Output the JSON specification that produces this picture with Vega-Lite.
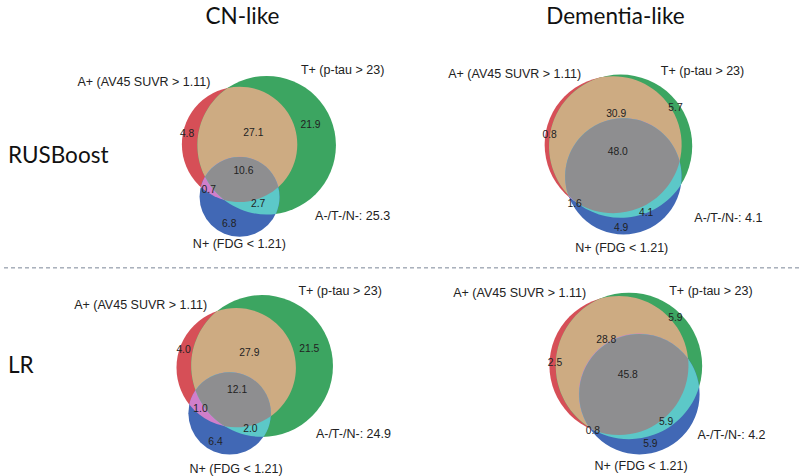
{
  "$schema": "https://vega.github.io/schema/vega-lite/v6.json",
  "width": 800,
  "height": 476,
  "autosize": {"type": "fit", "contains": "padding"},
  "padding": 0,
  "background": "white",
  "config": {"view": {"stroke": null}},
  "datasets": {
    "circles": [
      {"diag": "cn_rus", "set": "A", "x": 239.2, "y": 145.0, "total": 43.2},
      {"diag": "cn_rus", "set": "T", "x": 266.3, "y": 145.8, "total": 62.3},
      {"diag": "cn_rus", "set": "N", "x": 239.2, "y": 197.5, "total": 20.8},
      {"diag": "dem_rus", "set": "A", "x": 613.7, "y": 145.3, "total": 81.3},
      {"diag": "dem_rus", "set": "T", "x": 621.2, "y": 146.7, "total": 88.7},
      {"diag": "dem_rus", "set": "N", "x": 624.0, "y": 177.0, "total": 58.6},
      {"diag": "cn_lr", "set": "A", "x": 235.8, "y": 369.2, "total": 45.0},
      {"diag": "cn_lr", "set": "T", "x": 261.7, "y": 367.5, "total": 63.5},
      {"diag": "cn_lr", "set": "N", "x": 229.2, "y": 415.0, "total": 21.5},
      {"diag": "dem_lr", "set": "A", "x": 619.5, "y": 367.0, "total": 77.9},
      {"diag": "dem_lr", "set": "T", "x": 629.5, "y": 367.5, "total": 86.4},
      {"diag": "dem_lr", "set": "N", "x": 640.0, "y": 395.8, "total": 58.4}
    ],
    "regions": [
      {"diag": "cn_rus", "region": "A", "value": 4.8, "x": 186.5, "y": 135},
      {"diag": "cn_rus", "region": "AT", "value": 27.1, "x": 253, "y": 133.7},
      {"diag": "cn_rus", "region": "T", "value": 21.9, "x": 310.3, "y": 125.8},
      {"diag": "cn_rus", "region": "ATN", "value": 10.6, "x": 243, "y": 172},
      {"diag": "cn_rus", "region": "AN", "value": 0.7, "x": 208.3, "y": 190.8},
      {"diag": "cn_rus", "region": "TN", "value": 2.7, "x": 257.8, "y": 205.3},
      {"diag": "cn_rus", "region": "N", "value": 6.8, "x": 228.8, "y": 225},
      {"diag": "dem_rus", "region": "A", "value": 0.8, "x": 550, "y": 135.3},
      {"diag": "dem_rus", "region": "AT", "value": 30.9, "x": 616.7, "y": 114.2},
      {"diag": "dem_rus", "region": "T", "value": 5.7, "x": 676.2, "y": 108},
      {"diag": "dem_rus", "region": "ATN", "value": 48.0, "x": 618.3, "y": 153},
      {"diag": "dem_rus", "region": "AN", "value": 1.6, "x": 575, "y": 204.5},
      {"diag": "dem_rus", "region": "TN", "value": 4.1, "x": 646.7, "y": 213.8},
      {"diag": "dem_rus", "region": "N", "value": 4.9, "x": 621.7, "y": 229.3},
      {"diag": "cn_lr", "region": "A", "value": 4.0, "x": 183, "y": 351.7},
      {"diag": "cn_lr", "region": "AT", "value": 27.9, "x": 249, "y": 354.7},
      {"diag": "cn_lr", "region": "T", "value": 21.5, "x": 309, "y": 350},
      {"diag": "cn_lr", "region": "ATN", "value": 12.1, "x": 236.7, "y": 391.2},
      {"diag": "cn_lr", "region": "AN", "value": 1.0, "x": 200, "y": 410.4},
      {"diag": "cn_lr", "region": "TN", "value": 2.0, "x": 250, "y": 430.4},
      {"diag": "cn_lr", "region": "N", "value": 6.4, "x": 215, "y": 443.8},
      {"diag": "dem_lr", "region": "A", "value": 2.5, "x": 555.4, "y": 364.6},
      {"diag": "dem_lr", "region": "AT", "value": 28.8, "x": 606.7, "y": 341},
      {"diag": "dem_lr", "region": "T", "value": 5.9, "x": 676, "y": 319.7},
      {"diag": "dem_lr", "region": "ATN", "value": 45.8, "x": 628.3, "y": 376.4},
      {"diag": "dem_lr", "region": "AN", "value": 0.8, "x": 593.3, "y": 433.3},
      {"diag": "dem_lr", "region": "TN", "value": 5.9, "x": 666.7, "y": 423.6},
      {"diag": "dem_lr", "region": "N", "value": 5.9, "x": 651, "y": 446}
    ],
    "setlabels": [
      {"diag": "cn_rus", "label": "A+ (AV45 SUVR > 1.11)", "x": 143.3, "y": 82.3},
      {"diag": "cn_rus", "label": "T+ (p-tau > 23)", "x": 342.5, "y": 70.7},
      {"diag": "cn_rus", "label": "N+ (FDG < 1.21)", "x": 239, "y": 245},
      {"diag": "cn_rus", "label": "A-/T-/N-: 25.3", "x": 352.5, "y": 217.3},
      {"diag": "dem_rus", "label": "A+ (AV45 SUVR > 1.11)", "x": 515, "y": 74},
      {"diag": "dem_rus", "label": "T+ (p-tau > 23)", "x": 703.3, "y": 70.8},
      {"diag": "dem_rus", "label": "N+ (FDG < 1.21)", "x": 622.3, "y": 249},
      {"diag": "dem_rus", "label": "A-/T-/N-: 4.1", "x": 729.2, "y": 219},
      {"diag": "cn_lr", "label": "A+ (AV45 SUVR > 1.11)", "x": 140, "y": 306.7},
      {"diag": "cn_lr", "label": "T+ (p-tau > 23)", "x": 340, "y": 292.3},
      {"diag": "cn_lr", "label": "N+ (FDG < 1.21)", "x": 235.7, "y": 470.7},
      {"diag": "cn_lr", "label": "A-/T-/N-: 24.9", "x": 353.3, "y": 435.7},
      {"diag": "dem_lr", "label": "A+ (AV45 SUVR > 1.11)", "x": 520, "y": 294},
      {"diag": "dem_lr", "label": "T+ (p-tau > 23)", "x": 711.7, "y": 292.3},
      {"diag": "dem_lr", "label": "N+ (FDG < 1.21)", "x": 641.7, "y": 468.3},
      {"diag": "dem_lr", "label": "A-/T-/N-: 4.2", "x": 732.3, "y": 437.3}
    ],
    "titles": [
      {"kind": "col", "label": "CN-like", "x": 242, "y": 17},
      {"kind": "col", "label": "Dementia-like", "x": 616, "y": 17},
      {"kind": "row", "label": "RUSBoost", "x": 7, "y": 157},
      {"kind": "row", "label": "LR", "x": 7, "y": 368}
    ],
    "separator": [{"y": 269}]
  },
  "layer": [
    {
      "data": {"name": "circles"},
      "transform": [{"filter": "datum.diag === 'cn_rus'"}],
      "mark": {"type": "point", "filled": true, "opacity": 1, "shape": "circle", "strokeWidth": 0},
      "encoding": {
        "x": {"field": "x", "type": "quantitative", "scale": {"type": "linear", "domain": [0, 800], "nice": false, "zero": false}, "axis": null},
        "y": {"field": "y", "type": "quantitative", "scale": {"type": "linear", "domain": [0, 476], "nice": false, "zero": false, "reverse": true}, "axis": null},
        "size": {"field": "total", "type": "quantitative", "scale": {"type": "linear", "domain": [0, 100], "range": [0, 30835]}, "legend": null},
        "color": {"field": "set", "type": "nominal", "scale": {"domain": ["A", "T", "N"], "range": ["#d64f57", "#3ca561", "#4168b5"]}, "legend": null}
      }
    },
    {
      "data": {"name": "circles"},
      "transform": [{"filter": "datum.diag === 'dem_rus'"}],
      "mark": {"type": "point", "filled": true, "opacity": 1, "shape": "circle", "strokeWidth": 0},
      "encoding": {
        "x": {"field": "x", "type": "quantitative", "scale": {"type": "linear", "domain": [0, 800], "nice": false, "zero": false}, "axis": null},
        "y": {"field": "y", "type": "quantitative", "scale": {"type": "linear", "domain": [0, 476], "nice": false, "zero": false, "reverse": true}, "axis": null},
        "size": {"field": "total", "type": "quantitative", "scale": {"type": "linear", "domain": [0, 100], "range": [0, 23104]}, "legend": null},
        "color": {"field": "set", "type": "nominal", "scale": {"domain": ["A", "T", "N"], "range": ["#d64f57", "#3ca561", "#4168b5"]}, "legend": null}
      }
    },
    {
      "data": {"name": "circles"},
      "transform": [{"filter": "datum.diag === 'cn_lr'"}],
      "mark": {"type": "point", "filled": true, "opacity": 1, "shape": "circle", "strokeWidth": 0},
      "encoding": {
        "x": {"field": "x", "type": "quantitative", "scale": {"type": "linear", "domain": [0, 800], "nice": false, "zero": false}, "axis": null},
        "y": {"field": "y", "type": "quantitative", "scale": {"type": "linear", "domain": [0, 476], "nice": false, "zero": false, "reverse": true}, "axis": null},
        "size": {"field": "total", "type": "quantitative", "scale": {"type": "linear", "domain": [0, 100], "range": [0, 31684]}, "legend": null},
        "color": {"field": "set", "type": "nominal", "scale": {"domain": ["A", "T", "N"], "range": ["#d64f57", "#3ca561", "#4168b5"]}, "legend": null}
      }
    },
    {
      "data": {"name": "circles"},
      "transform": [{"filter": "datum.diag === 'dem_lr'"}],
      "mark": {"type": "point", "filled": true, "opacity": 1, "shape": "circle", "strokeWidth": 0},
      "encoding": {
        "x": {"field": "x", "type": "quantitative", "scale": {"type": "linear", "domain": [0, 800], "nice": false, "zero": false}, "axis": null},
        "y": {"field": "y", "type": "quantitative", "scale": {"type": "linear", "domain": [0, 476], "nice": false, "zero": false, "reverse": true}, "axis": null},
        "size": {"field": "total", "type": "quantitative", "scale": {"type": "linear", "domain": [0, 100], "range": [0, 24838]}, "legend": null},
        "color": {"field": "set", "type": "nominal", "scale": {"domain": ["A", "T", "N"], "range": ["#d64f57", "#3ca561", "#4168b5"]}, "legend": null}
      }
    },
    {
      "data": {"name": "circles"},
      "transform": [{"filter": "datum.set === 'A'"}],
      "mark": {"type": "point", "filled": true, "opacity": 1, "size": 4, "color": "#cdab82", "strokeWidth": 0},
      "encoding": {
        "x": {"field": "x", "type": "quantitative", "scale": {"type": "linear", "domain": [0, 800], "nice": false, "zero": false}, "axis": null},
        "y": {"field": "y", "type": "quantitative", "scale": {"type": "linear", "domain": [0, 476], "nice": false, "zero": false, "reverse": true}, "axis": null},
        "shape": {"field": "diag", "type": "nominal", "legend": null, "scale": {"domain": ["cn_rus", "dem_rus", "cn_lr", "dem_lr"], "range": [
          "M -15.26 55.65 A 57.7 57.7 0 1 0 -11.96 -56.45 A 69.3 69.3 0 0 0 -15.26 55.65 Z",
          "M -35.95 58.3 A 68.5 68.5 0 1 0 -12.5 -67.35 A 71.6 71.6 0 0 0 -35.95 58.3 Z",
          "M -11.39 58.6 A 59.7 59.7 0 1 0 -18.95 -56.61 A 70.9 70.9 0 0 0 -11.39 58.6 Z",
          "M -24.64 64.99 A 69.5 69.5 0 1 0 -18.03 -67.12 A 73.2 73.2 0 0 0 -24.64 64.99 Z"
        ]}}
      }
    },
    {
      "data": {"name": "circles"},
      "transform": [{"filter": "datum.set === 'A'"}],
      "mark": {"type": "point", "filled": true, "opacity": 1, "size": 4, "color": "#d07fca", "strokeWidth": 0},
      "encoding": {
        "x": {"field": "x", "type": "quantitative", "scale": {"type": "linear", "domain": [0, 800], "nice": false, "zero": false}, "axis": null},
        "y": {"field": "y", "type": "quantitative", "scale": {"type": "linear", "domain": [0, 476], "nice": false, "zero": false, "reverse": true}, "axis": null},
        "shape": {"field": "diag", "type": "nominal", "legend": null, "scale": {"domain": ["cn_rus", "dem_rus", "cn_lr", "dem_lr"], "range": [
          "M -38.79 42.72 A 57.7 57.7 0 0 0 38.79 42.72 A 40 40 0 0 0 -38.79 42.72 Z",
          "M -44.08 52.43 A 68.5 68.5 0 0 0 66.48 16.51 A 58.2 58.2 0 1 0 -44.08 52.43 Z",
          "M -46.93 36.91 A 59.7 59.7 0 0 0 34.6 48.65 A 41.3 41.3 0 0 0 -46.93 36.91 Z",
          "M -28.9 63.21 A 69.5 69.5 0 0 0 69.19 -6.61 A 60.2 60.2 0 0 0 -28.9 63.21 Z"
        ]}}
      }
    },
    {
      "data": {"name": "circles"},
      "transform": [{"filter": "datum.set === 'A'"}],
      "mark": {"type": "point", "filled": true, "opacity": 1, "size": 4, "color": "#5cc8c8", "strokeWidth": 0},
      "encoding": {
        "x": {"field": "x", "type": "quantitative", "scale": {"type": "linear", "domain": [0, 800], "nice": false, "zero": false}, "axis": null},
        "y": {"field": "y", "type": "quantitative", "scale": {"type": "linear", "domain": [0, 476], "nice": false, "zero": false, "reverse": true}, "axis": null},
        "shape": {"field": "diag", "type": "nominal", "legend": null, "scale": {"domain": ["cn_rus", "dem_rus", "cn_lr", "dem_lr"], "range": [
          "M -34.58 32.4 A 69.3 69.3 0 0 0 36.2 69.5 A 40 40 0 0 0 -34.58 32.4 Z",
          "M -44.88 50.21 A 71.6 71.6 0 0 0 67.94 39.79 A 58.2 58.2 0 1 0 -44.88 50.21 Z",
          "M -40.73 22.54 A 70.9 70.9 0 0 0 27.44 69.19 A 41.3 41.3 0 1 0 -40.73 22.54 Z",
          "M -29.73 61.98 A 73.2 73.2 0 0 0 80.22 21.19 A 60.2 60.2 0 1 0 -29.73 61.98 Z"
        ]}}
      }
    },
    {
      "data": {"name": "circles"},
      "transform": [{"filter": "datum.set === 'A'"}],
      "mark": {"type": "point", "filled": true, "opacity": 1, "size": 4, "color": "#8e8e90", "strokeWidth": 0},
      "encoding": {
        "x": {"field": "x", "type": "quantitative", "scale": {"type": "linear", "domain": [0, 800], "nice": false, "zero": false}, "axis": null},
        "y": {"field": "y", "type": "quantitative", "scale": {"type": "linear", "domain": [0, 476], "nice": false, "zero": false, "reverse": true}, "axis": null},
        "shape": {"field": "diag", "type": "nominal", "legend": null, "scale": {"domain": ["cn_rus", "dem_rus", "cn_lr", "dem_lr"], "range": [
          "M -34.58 32.4 A 40 40 0 0 1 38.79 42.72 A 57.7 57.7 0 0 1 -15.26 55.65 A 69.3 69.3 0 0 1 -34.58 32.4 Z",
          "M -44.88 50.21 A 58.2 58.2 0 1 1 66.48 16.51 A 68.5 68.5 0 0 1 -35.95 58.3 A 71.6 71.6 0 0 1 -44.88 50.21 Z",
          "M -40.73 22.54 A 41.3 41.3 0 0 1 34.6 48.65 A 59.7 59.7 0 0 1 -11.39 58.6 A 70.9 70.9 0 0 1 -40.73 22.54 Z",
          "M -29.73 61.98 A 60.2 60.2 0 0 1 69.19 -6.61 A 69.5 69.5 0 0 1 -24.64 64.99 A 73.2 73.2 0 0 1 -29.73 61.98 Z"
        ]}}
      }
    },
    {
      "data": {"name": "regions"},
      "mark": {"type": "text", "font": "Liberation Sans", "fontSize": 10.3, "color": "#222222", "align": "center", "baseline": "middle"},
      "encoding": {
        "x": {"field": "x", "type": "quantitative", "scale": {"type": "linear", "domain": [0, 800], "nice": false, "zero": false}, "axis": null},
        "y": {"field": "y", "type": "quantitative", "scale": {"type": "linear", "domain": [0, 476], "nice": false, "zero": false, "reverse": true}, "axis": null},
        "text": {"field": "value", "type": "quantitative", "format": ".1f"}
      }
    },
    {
      "data": {"name": "setlabels"},
      "mark": {"type": "text", "font": "Liberation Sans", "fontSize": 12.5, "color": "#222222", "align": "center", "baseline": "middle"},
      "encoding": {
        "x": {"field": "x", "type": "quantitative", "scale": {"type": "linear", "domain": [0, 800], "nice": false, "zero": false}, "axis": null},
        "y": {"field": "y", "type": "quantitative", "scale": {"type": "linear", "domain": [0, 476], "nice": false, "zero": false, "reverse": true}, "axis": null},
        "text": {"field": "label", "type": "nominal"}
      }
    },
    {
      "data": {"name": "titles"},
      "transform": [{"filter": "datum.kind === 'col'"}],
      "mark": {"type": "text", "font": "Lato", "fontSize": 22.5, "color": "#111111", "align": "center", "baseline": "middle"},
      "encoding": {
        "x": {"field": "x", "type": "quantitative", "scale": {"type": "linear", "domain": [0, 800], "nice": false, "zero": false}, "axis": null},
        "y": {"field": "y", "type": "quantitative", "scale": {"type": "linear", "domain": [0, 476], "nice": false, "zero": false, "reverse": true}, "axis": null},
        "text": {"field": "label", "type": "nominal"}
      }
    },
    {
      "data": {"name": "titles"},
      "transform": [{"filter": "datum.kind === 'row'"}],
      "mark": {"type": "text", "font": "Lato", "fontSize": 22.5, "color": "#111111", "align": "left", "baseline": "middle"},
      "encoding": {
        "x": {"field": "x", "type": "quantitative", "scale": {"type": "linear", "domain": [0, 800], "nice": false, "zero": false}, "axis": null},
        "y": {"field": "y", "type": "quantitative", "scale": {"type": "linear", "domain": [0, 476], "nice": false, "zero": false, "reverse": true}, "axis": null},
        "text": {"field": "label", "type": "nominal"}
      }
    },
    {
      "data": {"name": "separator"},
      "mark": {"type": "rule", "color": "#7a8596", "strokeWidth": 1, "strokeDash": [4, 3]},
      "encoding": {
        "y": {"field": "y", "type": "quantitative", "scale": {"type": "linear", "domain": [0, 476], "nice": false, "zero": false, "reverse": true}, "axis": null}
      }
    }
  ],
  "resolve": {"scale": {"size": "independent", "shape": "independent", "color": "independent"}}
}
